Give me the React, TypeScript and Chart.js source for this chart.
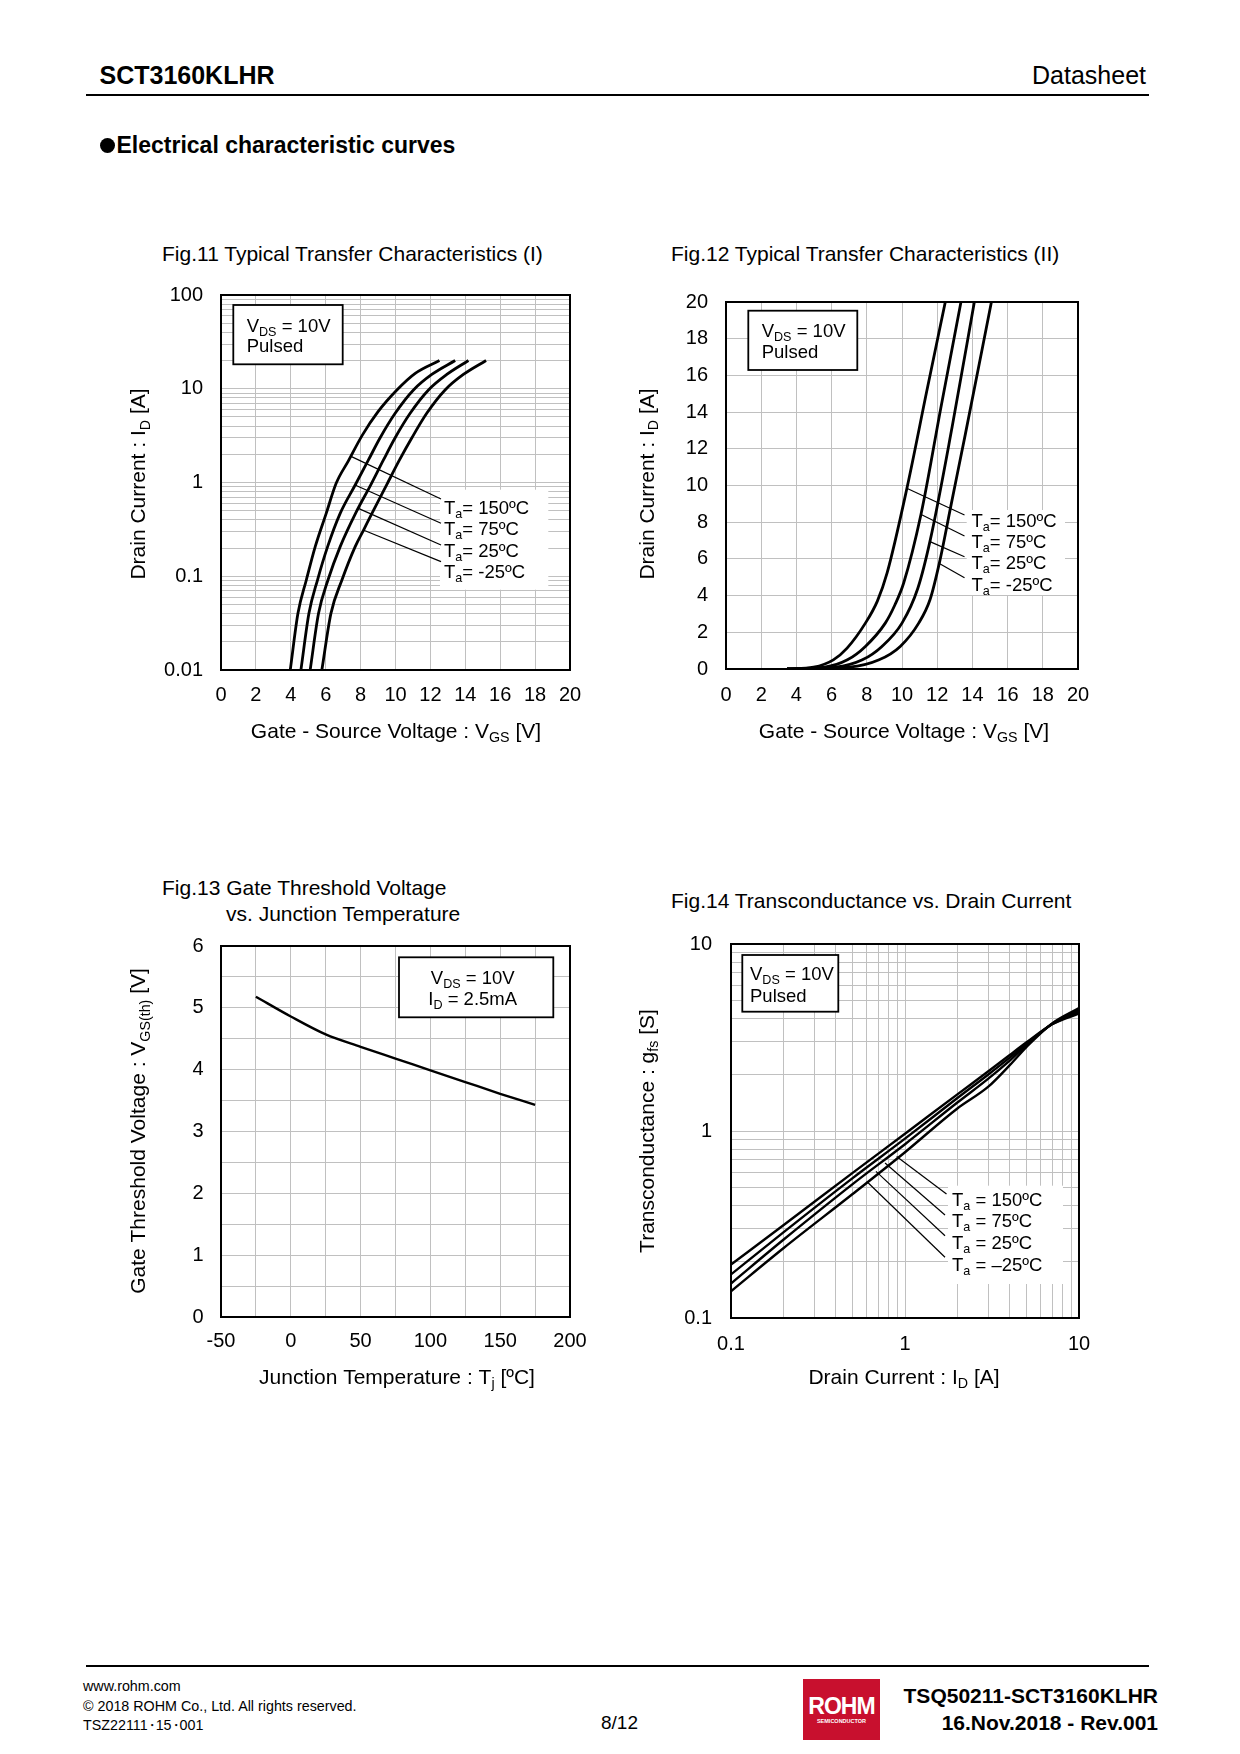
import React, { useEffect, useRef } from 'react';
import { Chart, registerables } from 'chart.js';

Chart.register(...registerables);

const FONT = "'Liberation Sans', Arial, Helvetica, sans-serif";
const GRID = '#c0c0c0';

type Pt = [number, number];
type Seg = { t: string; sub?: boolean };

// ---------------- Fig.11 (log Id vs Vgs) ----------------
const FIG11_X_TICKS = [0, 2, 4, 6, 8, 10, 12, 14, 16, 18, 20];
const FIG11_Y_LABELS = [0.01, 0.1, 1, 10, 100];
const FIG11_TA150: Pt[] = [[3.97, 0.01], [4.41, 0.0402], [4.89, 0.0912], [5.4, 0.207], [6.03, 0.469], [6.6, 0.98], [7.3, 1.7], [8.1, 3.2], [9.0, 5.7], [10.08, 9.7], [11.13, 14.6], [12.52, 20]];
const FIG11_TA75: Pt[] = [[4.58, 0.01], [5.04, 0.0402], [5.53, 0.0912], [6.11, 0.207], [6.83, 0.469], [7.69, 0.94], [8.45, 1.74], [9.12, 3.0], [9.98, 5.47], [11.03, 9.7], [12.08, 14.2], [13.42, 20]];
const FIG11_TA25: Pt[] = [[5.11, 0.01], [5.59, 0.0402], [6.13, 0.0912], [6.83, 0.207], [7.71, 0.469], [8.59, 0.95], [9.31, 1.74], [9.98, 3.0], [10.84, 5.47], [11.89, 9.7], [12.94, 14.2], [14.18, 20]];
const FIG11_TAM25: Pt[] = [[5.78, 0.01], [6.3, 0.0402], [6.93, 0.0912], [7.69, 0.207], [8.17, 0.311], [8.65, 0.469], [9.5, 0.95], [10.23, 1.74], [10.94, 3.0], [11.79, 5.47], [12.84, 9.7], [13.89, 14.2], [15.19, 20]];

// ---------------- Fig.12 (linear Id vs Vgs) ----------------
const FIG12_X_TICKS = [0, 2, 4, 6, 8, 10, 12, 14, 16, 18, 20];
const FIG12_Y_TICKS = [0, 2, 4, 6, 8, 10, 12, 14, 16, 18, 20];
const FIG12_TA150: Pt[] = [[3.47, 0], [4.98, 0.1], [6.1, 0.5], [6.88, 1.14], [7.92, 2.5], [8.6, 3.7], [9.15, 5.22], [10.28, 9.85], [11.42, 15.2], [12.46, 20]];
const FIG12_TA75: Pt[] = [[3.47, 0], [5.6, 0.1], [6.9, 0.5], [7.92, 1.23], [9.05, 2.5], [9.6, 3.5], [10.1, 4.7], [11.08, 8.43], [12.2, 14.2], [13.35, 20]];
const FIG12_TA25: Pt[] = [[3.47, 0], [6.2, 0.1], [7.75, 0.5], [8.86, 1.23], [10.0, 2.5], [10.9, 4.4], [11.61, 7.05], [12.85, 13.2], [14.11, 20]];
const FIG12_TAM25: Pt[] = [[3.47, 0], [7.0, 0.1], [8.7, 0.5], [9.9, 1.23], [10.95, 2.5], [11.6, 3.8], [12.14, 5.85], [12.8, 9.0], [13.6, 12.8], [15.08, 20]];

// ---------------- Fig.13 (Vth vs Tj) ----------------
const FIG13_X_GRID = [-50, -25, 0, 25, 50, 75, 100, 125, 150, 175, 200];
const FIG13_X_LABELS = [-50, 0, 50, 100, 150, 200];
const FIG13_Y_GRID = [0, 0.5, 1, 1.5, 2, 2.5, 3, 3.5, 4, 4.5, 5, 5.5, 6];
const FIG13_Y_LABELS = [0, 1, 2, 3, 4, 5, 6];
const FIG13_TJ = [-25, 0, 25, 50, 75, 100, 125, 150, 175];
const FIG13_VTH = [5.18, 4.86, 4.57, 4.37, 4.18, 3.99, 3.8, 3.61, 3.43];

// ---------------- Fig.14 (gfs vs Id) ----------------
const FIG14_LABELS = [0.1, 1, 10];
const FIG14_ID = [0.1, 0.2, 0.5, 1, 2, 3, 4, 5, 7, 10];
const FIG14_GFS_150 = [0.193, 0.313, 0.597, 0.967, 1.57, 2.08, 2.55, 2.98, 3.72, 4.25];
const FIG14_GFS_75 = [0.171, 0.287, 0.56, 0.91, 1.5, 2.0, 2.47, 2.93, 3.72, 4.35];
const FIG14_GFS_25 = [0.153, 0.262, 0.52, 0.85, 1.42, 1.9, 2.38, 2.88, 3.74, 4.45];
const FIG14_GFS_M25 = [0.139, 0.236, 0.46, 0.77, 1.32, 1.72, 2.25, 2.82, 3.76, 4.55];

const TA_NAMES = ['150ºC', '75ºC', '25ºC', '-25ºC'];
const TA_NAMES_14 = ['150ºC', '75ºC', '25ºC', '–25ºC'];

// ---------------- helpers ----------------
function logGrid(min: number, max: number): number[] {
  const out: number[] = [];
  const e0 = Math.round(Math.log10(min));
  const e1 = Math.round(Math.log10(max));
  for (let e = e0; e < e1; e++) for (let m = 1; m < 10; m++) out.push(m * Math.pow(10, e));
  out.push(max);
  return out;
}

function zip(xs: number[], ys: number[]): Pt[] {
  return xs.map((x, i) => [x, ys[i]] as Pt);
}

function rich(ctx: CanvasRenderingContext2D, segs: Seg[], x: number, cy: number, size: number, align: 'left' | 'center' | 'right') {
  const sub = size * 0.68;
  let total = 0;
  const ws = segs.map((s) => {
    ctx.font = `${s.sub ? sub : size}px ${FONT}`;
    const w = ctx.measureText(s.t).width;
    total += w;
    return w;
  });
  let cx = align === 'left' ? x : align === 'center' ? x - total / 2 : x - total;
  const base = cy + size * 0.358;
  ctx.textAlign = 'left';
  ctx.textBaseline = 'alphabetic';
  ctx.fillStyle = '#000';
  segs.forEach((s, i) => {
    ctx.font = `${s.sub ? sub : size}px ${FONT}`;
    ctx.fillText(s.t, cx, s.sub ? base + size * 0.22 : base);
    cx += ws[i];
  });
}

interface AxisSpec {
  type: 'linear' | 'logarithmic';
  min: number;
  max: number;
  grid: number[];
  labels: number[];
  padding: number;
}
interface TextLine { segs: Seg[]; x: number; cy: number; align: 'left' | 'center' | 'right' }
interface PanelSpec {
  box: { x: number; y: number; w: number; h: number };
  area: { l: number; t: number; r: number; b: number };
  xAxis: AxisSpec;
  yAxis: AxisSpec;
  series: Pt[][];
  lineWidth: number;
  xTitle: { segs: Seg[]; x: number; y: number };
  yTitle: { segs: Seg[]; x: number; y: number };
  note: { x: number; y: number; w: number; h: number; lines: TextLine[] };
  labelBg?: { x: number; y: number; w: number; h: number };
  labels?: TextLine[];
  leaders?: { from: Pt; to: Pt }[];
}

const ANN = 18.5;
const TICK = 20;
const TITLE = 21;

const V_DS: Seg[] = [{ t: 'V' }, { t: 'DS', sub: true }, { t: ' = 10V' }];
const taSegs = (name: string, sp: string): Seg[] => [{ t: 'T' }, { t: 'a', sub: true }, { t: `${sp}= ${name}` }];

const PANELS: PanelSpec[] = [
  {
    box: { x: 100, y: 270, w: 520, h: 480 },
    area: { l: 221, t: 295, r: 570, b: 670 },
    xAxis: { type: 'linear', min: 0, max: 20, grid: FIG11_X_TICKS, labels: FIG11_X_TICKS, padding: 13 },
    yAxis: { type: 'logarithmic', min: 0.01, max: 100, grid: logGrid(0.01, 100), labels: FIG11_Y_LABELS, padding: 18 },
    series: [FIG11_TA150, FIG11_TA75, FIG11_TA25, FIG11_TAM25],
    lineWidth: 2.8,
    xTitle: { segs: [{ t: 'Gate - Source Voltage : V' }, { t: 'GS', sub: true }, { t: ' [V]' }], x: 396, y: 730 },
    yTitle: { segs: [{ t: 'Drain Current : I' }, { t: 'D', sub: true }, { t: ' [A]' }], x: 137.5, y: 484 },
    note: { x: 12.3, y: 10, w: 109.4, h: 59.3, lines: [
      { segs: V_DS, x: 25.7, cy: 30.7, align: 'left' },
      { segs: [{ t: 'Pulsed' }], x: 25.7, cy: 50.7, align: 'left' },
    ] },
    labelBg: { x: 219, y: 194.7, w: 108.3, h: 100 },
    labels: TA_NAMES.map((n, i) => ({ segs: taSegs(n, ''), x: 223, cy: [212, 233.3, 255, 276.6][i], align: 'left' as const })),
    leaders: [
      { from: [7.45, 1.9], to: [220, 204] },
      { from: [7.68, 0.94], to: [220, 228.3] },
      { from: [7.87, 0.53], to: [220, 250] },
      { from: [8.15, 0.311], to: [220, 266.6] },
    ],
  },
  {
    box: { x: 600, y: 270, w: 520, h: 480 },
    area: { l: 726, t: 302, r: 1078, b: 669 },
    xAxis: { type: 'linear', min: 0, max: 20, grid: FIG12_X_TICKS, labels: FIG12_X_TICKS, padding: 14 },
    yAxis: { type: 'linear', min: 0, max: 20, grid: FIG12_Y_TICKS, labels: FIG12_Y_TICKS, padding: 18 },
    series: [FIG12_TA150, FIG12_TA75, FIG12_TA25, FIG12_TAM25],
    lineWidth: 2.8,
    xTitle: { segs: [{ t: 'Gate - Source Voltage : V' }, { t: 'GS', sub: true }, { t: ' [V]' }], x: 904, y: 730 },
    yTitle: { segs: [{ t: 'Drain Current : I' }, { t: 'D', sub: true }, { t: ' [A]' }], x: 646, y: 484 },
    note: { x: 22.3, y: 8.7, w: 109, h: 59.3, lines: [
      { segs: V_DS, x: 35.7, cy: 28, align: 'left' },
      { segs: [{ t: 'Pulsed' }], x: 35.7, cy: 49, align: 'left' },
    ] },
    labelBg: { x: 240.7, y: 208, w: 98.3, h: 85 },
    labels: TA_NAMES.map((n, i) => ({ segs: taSegs(n, ''), x: 245.5, cy: [218, 239, 260.7, 282][i], align: 'left' as const })),
    leaders: [
      { from: [10.27, 9.85], to: [238.5, 213] },
      { from: [11.06, 8.43], to: [238.5, 234] },
      { from: [11.59, 6.94], to: [238.5, 254.7] },
      { from: [12.12, 5.75], to: [238.5, 275.7] },
    ],
  },
  {
    box: { x: 100, y: 920, w: 520, h: 480 },
    area: { l: 221, t: 946, r: 570, b: 1317 },
    xAxis: { type: 'linear', min: -50, max: 200, grid: FIG13_X_GRID, labels: FIG13_X_LABELS, padding: 12 },
    yAxis: { type: 'linear', min: 0, max: 6, grid: FIG13_Y_GRID, labels: FIG13_Y_LABELS, padding: 17.5 },
    series: [zip(FIG13_TJ, FIG13_VTH)],
    lineWidth: 2.4,
    xTitle: { segs: [{ t: 'Junction Temperature : T' }, { t: 'j', sub: true }, { t: ' [ºC]' }], x: 397, y: 1376 },
    yTitle: { segs: [{ t: 'Gate Threshold Voltage : V' }, { t: 'GS(th)', sub: true }, { t: ' [V]' }], x: 137.5, y: 1131 },
    note: { x: 178, y: 11.3, w: 154.3, h: 60, lines: [
      { segs: V_DS, x: 251.7, cy: 31.3, align: 'center' },
      { segs: [{ t: 'I' }, { t: 'D', sub: true }, { t: ' = 2.5mA' }], x: 251.7, cy: 52, align: 'center' },
    ] },
  },
  {
    box: { x: 600, y: 920, w: 520, h: 480 },
    area: { l: 731, t: 944, r: 1079, b: 1318 },
    xAxis: { type: 'logarithmic', min: 0.1, max: 10, grid: logGrid(0.1, 10), labels: FIG14_LABELS, padding: 14 },
    yAxis: { type: 'logarithmic', min: 0.1, max: 10, grid: logGrid(0.1, 10), labels: FIG14_LABELS, padding: 19 },
    series: [zip(FIG14_ID, FIG14_GFS_150), zip(FIG14_ID, FIG14_GFS_75), zip(FIG14_ID, FIG14_GFS_25), zip(FIG14_ID, FIG14_GFS_M25)],
    lineWidth: 2.4,
    xTitle: { segs: [{ t: 'Drain Current : I' }, { t: 'D', sub: true }, { t: ' [A]' }], x: 904, y: 1376 },
    yTitle: { segs: [{ t: 'Transconductance : g' }, { t: 'fs', sub: true }, { t: ' [S]' }], x: 646, y: 1131 },
    note: { x: 11.3, y: 11, w: 96, h: 56.7, lines: [
      { segs: V_DS, x: 19, cy: 29.3, align: 'left' },
      { segs: [{ t: 'Pulsed' }], x: 19, cy: 51, align: 'left' },
    ] },
    labelBg: { x: 217, y: 241.7, w: 115, h: 98.3 },
    labels: TA_NAMES_14.map((n, i) => ({ segs: taSegs(n, ' '), x: 221, cy: [255, 276.7, 298.3, 320][i], align: 'left' as const })),
    leaders: [
      { from: [0.895, 0.731], to: [215.5, 250] },
      { from: [0.768, 0.674], to: [214, 271] },
      { from: [0.681, 0.608], to: [214, 291.7] },
      { from: [0.603, 0.537], to: [214, 313.3] },
    ],
  },
];

function axisOptions(a: AxisSpec, dir: 'x' | 'y', spec: PanelSpec) {
  return {
    type: a.type,
    min: a.min,
    max: a.max,
    position: dir === 'x' ? 'bottom' : 'left',
    afterBuildTicks: (s: any) => {
      s.ticks = a.grid.map((v) => ({ value: v }));
    },
    afterFit: (s: any) => {
      if (dir === 'x') s.height = spec.box.y + spec.box.h - spec.area.b;
      else s.width = spec.area.l - spec.box.x;
      s.paddingTop = 0;
      s.paddingBottom = 0;
      s.paddingLeft = 0;
      s.paddingRight = 0;
    },
    ticks: {
      autoSkip: false,
      maxRotation: 0,
      minRotation: 0,
      padding: a.padding,
      color: '#000',
      font: { family: FONT, size: TICK },
      callback: (v: any) => {
        const val = Number(v);
        const l = a.labels.find((q) => (q === 0 ? Math.abs(val) < 1e-9 : Math.abs(q - val) <= 1e-6 * Math.abs(q)));
        return l === undefined ? '' : String(l);
      },
    },
    grid: { color: GRID, lineWidth: 1, drawTicks: false, tickLength: 0 },
    border: { display: false },
  };
}

function makePlugin(spec: PanelSpec) {
  return {
    id: 'sheetDecor',
    afterDatasetsDraw(chart: any) {
      const { ctx, chartArea: ca, scales } = chart;
      ctx.save();
      if (spec.labelBg) {
        ctx.fillStyle = '#fff';
        ctx.fillRect(ca.left + spec.labelBg.x, ca.top + spec.labelBg.y, spec.labelBg.w, spec.labelBg.h);
      }
      if (spec.leaders) {
        ctx.strokeStyle = '#000';
        ctx.lineWidth = 1.2;
        spec.leaders.forEach((ld) => {
          ctx.beginPath();
          ctx.moveTo(scales.x.getPixelForValue(ld.from[0]), scales.y.getPixelForValue(ld.from[1]));
          ctx.lineTo(ca.left + ld.to[0], ca.top + ld.to[1]);
          ctx.stroke();
        });
      }
      (spec.labels || []).forEach((l) => rich(ctx, l.segs, ca.left + l.x, ca.top + l.cy, ANN, l.align));
      const n = spec.note;
      ctx.fillStyle = '#fff';
      ctx.fillRect(ca.left + n.x, ca.top + n.y, n.w, n.h);
      ctx.strokeStyle = '#000';
      ctx.lineWidth = 1.8;
      ctx.strokeRect(ca.left + n.x, ca.top + n.y, n.w, n.h);
      n.lines.forEach((l) => rich(ctx, l.segs, ca.left + l.x, ca.top + l.cy, ANN, l.align));
      ctx.restore();
    },
    afterDraw(chart: any) {
      const { ctx, chartArea: ca } = chart;
      ctx.save();
      ctx.strokeStyle = '#000';
      ctx.lineWidth = 2;
      ctx.strokeRect(ca.left, ca.top, ca.right - ca.left, ca.bottom - ca.top);
      rich(ctx, spec.xTitle.segs, spec.xTitle.x - spec.box.x, spec.xTitle.y - spec.box.y, TITLE, 'center');
      ctx.translate(spec.yTitle.x - spec.box.x, spec.yTitle.y - spec.box.y);
      ctx.rotate(-Math.PI / 2);
      rich(ctx, spec.yTitle.segs, 0, 0, TITLE, 'center');
      ctx.restore();
    },
  };
}

function Panel({ spec }: { spec: PanelSpec }) {
  const ref = useRef<HTMLCanvasElement>(null);
  useEffect(() => {
    if (!ref.current) return;
    const chart = new Chart(ref.current, {
      type: 'scatter',
      data: {
        datasets: spec.series.map((s) => ({
          data: s.map(([x, y]) => ({ x, y })),
          showLine: true,
          borderColor: '#000',
          backgroundColor: '#000',
          borderWidth: spec.lineWidth,
          pointRadius: 0,
          pointHoverRadius: 0,
          fill: false,
          cubicInterpolationMode: 'monotone',
        })),
      },
      options: {
        responsive: false,
        maintainAspectRatio: false,
        animation: false,
        events: [],
        layout: { padding: { left: 0, bottom: 0, top: spec.area.t - spec.box.y, right: spec.box.x + spec.box.w - spec.area.r } },
        plugins: { legend: { display: false }, tooltip: { enabled: false }, title: { display: false } },
        scales: { x: axisOptions(spec.xAxis, 'x', spec), y: axisOptions(spec.yAxis, 'y', spec) },
      } as any,
      plugins: [makePlugin(spec)],
    } as any);
    return () => chart.destroy();
  }, [spec]);
  return (
    <canvas
      ref={ref}
      width={spec.box.w}
      height={spec.box.h}
      style={{ position: 'absolute', left: spec.box.x, top: spec.box.y, width: spec.box.w, height: spec.box.h }}
    />
  );
}

function T({ x, cy, size, bold, align = 'left', children }: { x: number; cy: number; size: number; bold?: boolean; align?: 'left' | 'right' | 'center'; children: React.ReactNode }) {
  const style: React.CSSProperties = {
    position: 'absolute',
    top: cy - 0.49 * size,
    fontSize: size,
    lineHeight: 1,
    fontWeight: bold ? 700 : 400,
    whiteSpace: 'nowrap',
    fontFamily: FONT,
    color: '#000',
  };
  if (align === 'left') style.left = x;
  else if (align === 'right') style.right = 1240 - x;
  else {
    style.left = x;
    style.transform = 'translateX(-50%)';
  }
  return <div style={style}>{children}</div>;
}

const DOT = <span style={{ margin: '0 -3px' }}>・</span>;

export default function App() {
  return (
    <div style={{ position: 'absolute', left: 0, top: 0, width: 1240, height: 1754, background: '#fff', overflow: 'hidden', fontFamily: FONT }}>
      {/* header */}
      <T x={99.5} cy={75} size={25} bold>SCT3160KLHR</T>
      <T x={1146} cy={75} size={25} align="right">Datasheet</T>
      <div style={{ position: 'absolute', left: 86, top: 94, width: 1063, height: 2, background: '#000' }} />
      <div style={{ position: 'absolute', left: 100, top: 137.5, width: 15, height: 15, borderRadius: '50%', background: '#000' }} />
      <T x={116.5} cy={145} size={23} bold>Electrical characteristic curves</T>

      {/* figure titles */}
      <T x={162} cy={253} size={TITLE}>Fig.11 Typical Transfer Characteristics (I)</T>
      <T x={671} cy={253} size={TITLE}>Fig.12 Typical Transfer Characteristics (II)</T>
      <T x={162} cy={887} size={TITLE}>Fig.13 Gate Threshold Voltage</T>
      <T x={226} cy={913} size={TITLE}>vs. Junction Temperature</T>
      <T x={671} cy={900} size={TITLE}>Fig.14 Transconductance vs. Drain Current</T>

      {PANELS.map((p, i) => (
        <Panel key={i} spec={p} />
      ))}

      {/* footer */}
      <div style={{ position: 'absolute', left: 86, top: 1665, width: 1063, height: 2, background: '#000' }} />
      <T x={83} cy={1686} size={14.3}>www.rohm.com</T>
      <T x={83} cy={1706} size={14.3}>© 2018 ROHM Co., Ltd. All rights reserved.</T>
      <T x={83} cy={1725} size={14.3}>TSZ22111{DOT}15{DOT}001</T>
      <T x={619.5} cy={1722} size={19} align="center">8/12</T>
      <div style={{ position: 'absolute', left: 803, top: 1679, width: 77, height: 61, background: '#c8102e' }}>
        <div style={{ position: 'absolute', left: 0, width: 77, top: 16, textAlign: 'center', color: '#fff', fontFamily: FONT, fontWeight: 700, fontSize: 23, lineHeight: 1, letterSpacing: -1 }}>ROHM</div>
        <div style={{ position: 'absolute', left: 0, width: 77, top: 40, textAlign: 'center', color: '#fff', fontFamily: FONT, fontWeight: 700, fontSize: 5.5, lineHeight: 1 }}>SEMICONDUCTOR</div>
      </div>
      <T x={1158} cy={1695} size={21} bold align="right">TSQ50211-SCT3160KLHR</T>
      <T x={1158} cy={1722} size={21} bold align="right">16.Nov.2018 - Rev.001</T>
    </div>
  );
}
